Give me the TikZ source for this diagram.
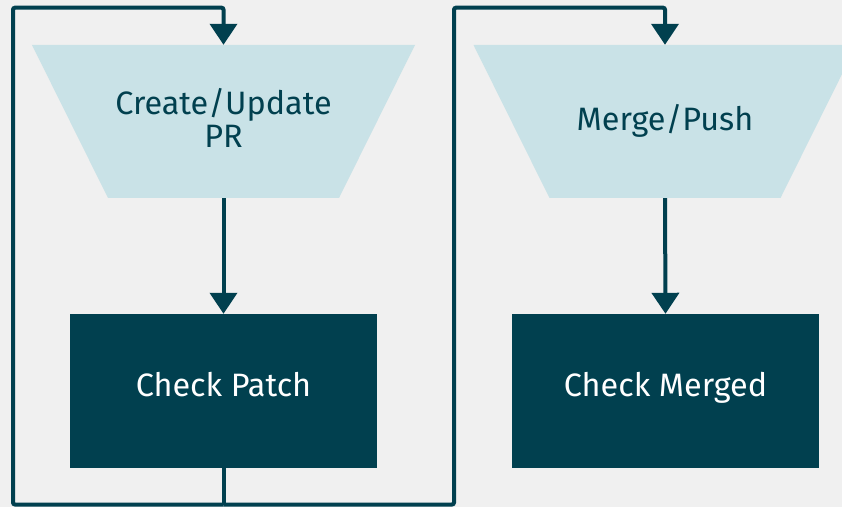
\documentclass[tikz,border=0pt]{standalone}
\usepackage{fontspec}
\setmainfont{Fira Sans}
\usetikzlibrary{arrows.meta}
\definecolor{bg}{HTML}{F0F0F0}
\definecolor{ink}{HTML}{01404F}
\definecolor{pale}{HTML}{C9E2E7}
\tikzset{
  % inverted trapezoid: the box is the bounding rectangle, the fill narrows by 76bp per side
  funnel/.style={rectangle, minimum width=383bp, minimum height=153bp, inner sep=0pt,
    path picture={\fill[pale] (path picture bounding box.north west)
      -- (path picture bounding box.north east)
      -- ([xshift=-76bp]path picture bounding box.south east)
      -- ([xshift=76bp]path picture bounding box.south west) -- cycle;},
    text=ink, align=center, font=\fontsize{32.5}{33}\selectfont, text depth=8bp},
  stepbox/.style={rectangle, minimum width=307bp, minimum height=154bp, inner sep=0pt,
    fill=ink, text=white, font=\fontsize{32.5}{33}\selectfont, text depth=14bp},
  wire/.style={draw=ink, line width=4bp, rounded corners=2bp},
  flow/.style={wire, -{Triangle[width=27bp,length=21bp]}}
}
\begin{document}
\begin{tikzpicture}[x=1bp,y=-1bp]
  \fill[bg] (0,0) rectangle (842,507);
  \useasboundingbox (0,0) rectangle (842,507);
  \clip (0,0) rectangle (842,507);

  % stages
  \node[funnel] (t1) at (223.5,121.5) {Create/Update\\PR};
  \node[funnel] (t2) at (665,121.5) {Merge/Push};
  \node[stepbox] (b1) at (223.5,391) {Check Patch};
  \node[stepbox] (b2) at (665.5,391) {Check Merged};

  % loop-back corners
  \coordinate (j) at (223.5,504.5);
  \coordinate (ltop) at (13,7.7);
  \coordinate (rtop) at (454,7.7);

  % downward flow
  \draw[flow] (t1.south) -- (b1.north);
  \draw[flow] (t2.south) -- (b2.north);

  % feedback from Check Patch
  \draw[wire] (b1.south) -- (j);
  \draw[flow] (j) -| (ltop) -| (t1.north);
  \draw[flow] (j) -| (rtop) -| (t2.north);
\end{tikzpicture}
\end{document}
